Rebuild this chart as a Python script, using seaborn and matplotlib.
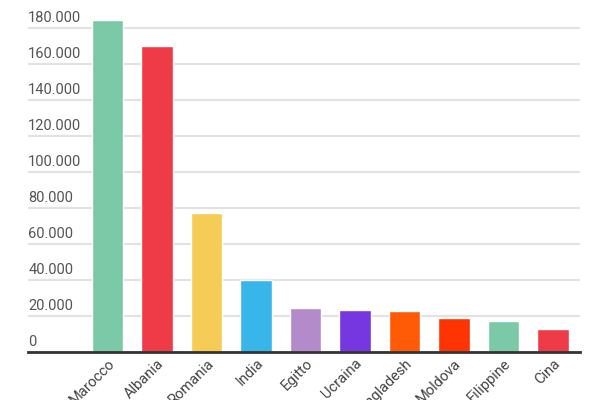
import seaborn as sns
import matplotlib.pyplot as plt
import pandas as pd
import matplotlib.transforms as mtransforms

# dati
paesi = ['Marocco', 'Albania', 'Romania', 'India', 'Egitto', 'Ucraina',
         'Bangladesh', 'Moldova', 'Filippine', 'Cina']
valori = [184400, 170000, 77400, 39800, 24300, 23500, 22800, 19000, 17200, 12800]
colori = ['#7cc9a7', '#ef3a48', '#f5cc55', '#38b6ea', '#b38bcb', '#7636e0',
          '#ff5a05', '#ff3402', '#7cc9a7', '#ef3a48']
y_ticks = [0, 20000, 40000, 60000, 80000, 100000, 120000, 140000, 160000, 180000]

df = pd.DataFrame({'paese': paesi, 'valore': valori})

sns.set_style('white')
plt.rcParams['font.family'] = ['Roboto', 'DejaVu Sans']

fig = plt.figure(figsize=(6, 4), dpi=100)
ax = fig.add_axes([0.047, 0.12, 0.92, 0.855])

sns.barplot(data=df, x='paese', y='valore', hue='paese', palette=colori,
            legend=False, width=0.63, saturation=1, ax=ax, zorder=3)

ax.set_xlim(-1.6, 9.55)
ax.set_ylim(0, 190000)
ax.set_yticks(y_ticks)
ax.set_yticklabels([])
ax.tick_params(axis='y', length=0)
ax.grid(axis='y', color='#e2e2e2', lw=1.5, zorder=0)
for s in ['top', 'right', 'left']:
    ax.spines[s].set_visible(False)
ax.spines['bottom'].set_color('#333333')
ax.spines['bottom'].set_linewidth(2)
ax.spines['bottom'].set_zorder(5)

# etichette asse y sopra le griglie, allineate a sinistra
trans = mtransforms.blended_transform_factory(ax.transAxes, ax.transData)
trans = trans + mtransforms.ScaledTranslation(0, 3 / 100, fig.dpi_scale_trans)
for t in y_ticks:
    lab = '0' if t == 0 else f'{t:,}'.replace(',', '.')
    ax.text(0, t, lab, transform=trans, ha='left', va='bottom',
            fontsize=10.5, color='#555555')

ax.set_xlabel('')
ax.set_ylabel('')
ax.tick_params(axis='x', length=0, pad=3)
for lab in ax.get_xticklabels():
    lab.set_rotation(45)
    lab.set_ha('right')
    lab.set_rotation_mode('anchor')
    lab.set_fontsize(10.5)
    lab.set_color('#444444')

fig.savefig('out.png', dpi=100)
